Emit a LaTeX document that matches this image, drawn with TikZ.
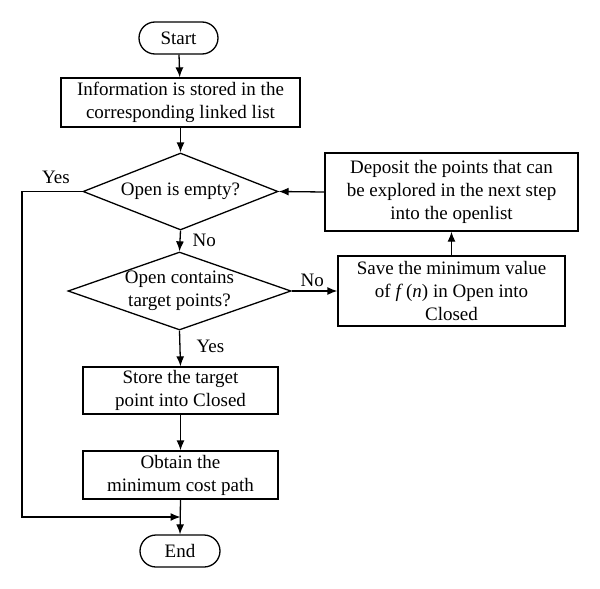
\documentclass[tikz,border=0pt]{standalone}
\usepackage{fontspec}
\setmainfont{Liberation Serif}
\usetikzlibrary{shapes.geometric,shapes.misc,arrows.meta}
\begin{document}
\begin{tikzpicture}[x=1pt,y=-1pt,
  every node/.style={font=\fontsize{19}{23}\selectfont},
  box/.style={draw,line width=1.3pt,rectangle,align=center,inner sep=0pt},
  term/.style={draw,line width=1.3pt,rounded rectangle,inner sep=0pt,minimum height=32pt},
  dia/.style={draw,line width=1.3pt,diamond,inner sep=0pt},
  conn/.style={line width=1.3pt,-{Latex[length=10pt,width=8pt]}},
  lbl/.style={inner sep=1pt}]
\useasboundingbox (0,0) rectangle (600,589);
\node[term,minimum width=79pt] (start) at (178.5,38) {Start};
\node[box,minimum width=239pt,minimum height=49pt] (info) at (180.5,102.5) {Information is stored in the\\corresponding linked list};
\node[dia,minimum width=195pt,minimum height=77pt,label={[align=center]center:Open is empty?}] (d1) at (180.5,191.5) {};
\node[dia,minimum width=223pt,minimum height=78pt,label={[align=center]center:Open contains\\target points?}] (d2) at (179.5,291) {};
\node[box,minimum width=195pt,minimum height=47pt] (store) at (180.5,390.5) {Store the target\\point into Closed};
\node[box,minimum width=195pt,minimum height=48pt] (obtain) at (180.5,475) {Obtain the\\minimum cost path};
\node[term,minimum width=80pt] (end) at (180,551) {End};
\node[box,minimum width=253pt,minimum height=78pt] (dep) at (451.5,192) {Deposit the points that can\\be explored in the next step\\into the openlist};
\node[box,minimum width=227pt,minimum height=70pt] (save) at (451.5,291) {Save the minimum value\\of \textit{f}\,(\textit{n}) in Open into\\Closed};
\coordinate (yc) at (22,517);
\coordinate (mc) at (180.5,517);
\draw[conn] (start) -- (info);
\draw[conn] (info) -- (d1.north);
\draw[conn] (d1.south) -- node[lbl,right,pos=0.45,xshift=11pt] (no1) {No} (d2.north);
\draw[conn] (d2.south) -- node[lbl,right,pos=0.45,xshift=15pt] (yes2) {Yes} (store.north);
\draw[conn] (store) -- (obtain);
\draw[conn] (obtain.south) -- (end.north);
\draw[conn] (d2.east) -- node[lbl,above,pos=0.45,yshift=3pt] (no2) {No} (save.west);
\draw[conn] (save.north) -- (dep.south);
\draw[conn] (dep.west) -- (d1.east);
\draw[conn] (d1.west) -| (yc) -- (mc);
\node[lbl] (yes1) at (56,177) {Yes};
\end{tikzpicture}
\end{document}
